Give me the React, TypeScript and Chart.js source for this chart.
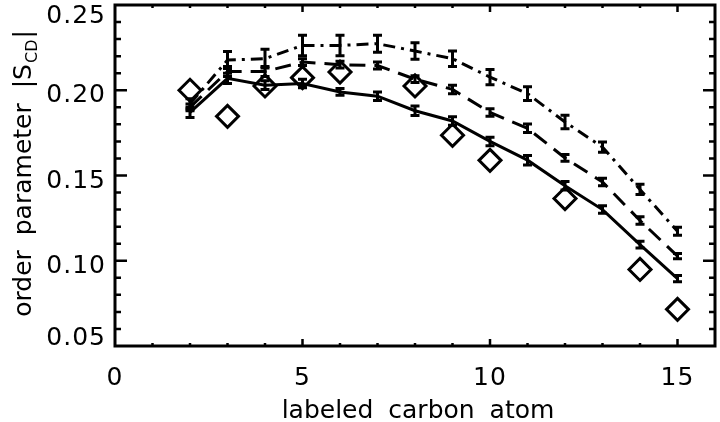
import React, { useEffect, useRef } from "react";
import { Chart, registerables } from "chart.js";

Chart.register(...registerables);

// ---- data ----
const carbons = [2, 3, 4, 5, 6, 7, 8, 9, 10, 11, 12, 13, 14, 15];

const simSolid = [0.187, 0.207, 0.203, 0.204, 0.199, 0.1965, 0.188, 0.182, 0.17, 0.159, 0.144, 0.13, 0.1095, 0.0895];
const simSolidErr = [0.003, 0.003, 0.0025, 0.0025, 0.002, 0.0025, 0.0028, 0.0025, 0.0025, 0.0028, 0.0025, 0.0022, 0.002, 0.0018];

const simDashed = [0.19, 0.211, 0.211, 0.2165, 0.215, 0.2145, 0.2065, 0.2005, 0.187, 0.1777, 0.1603, 0.1462, 0.1236, 0.1027];
const simDashedErr = [0.002, 0.003, 0.003, 0.002, 0.002, 0.002, 0.002, 0.0025, 0.0022, 0.0025, 0.002, 0.0022, 0.0022, 0.0015];

const simDashDot = [0.192, 0.2177, 0.2185, 0.2263, 0.2263, 0.2273, 0.223, 0.2185, 0.2077, 0.198, 0.1814, 0.1667, 0.1418, 0.1173];
const simDashDotErr = [0.003, 0.005, 0.0055, 0.006, 0.006, 0.005, 0.0048, 0.0045, 0.0045, 0.004, 0.004, 0.003, 0.003, 0.0023];

const expCarbons = [2, 3, 4, 5, 6, 8, 9, 10, 12, 14, 15];
const expValues = [0.2, 0.1847, 0.2025, 0.2074, 0.2107, 0.2025, 0.1736, 0.1589, 0.1365, 0.0949, 0.0715];

const xTicks = [0, 5, 10, 15];
const xTickLabels = ["0", "5", "10", "15"];
const yTicks = [0.05, 0.1, 0.15, 0.2, 0.25];
const yTickLabels = ["0.05", "0.10", "0.15", "0.20", "0.25"];
const xTitle = "labeled carbon atom";
const yTitleMain = "order parameter |S";
const yTitleSub = "CD";
const yTitleEnd = "|";

const X_MIN = 0, X_MAX = 16, Y_MIN = 0.05, Y_MAX = 0.25;

const pts = (xs: number[], ys: number[]) => xs.map((x, i) => ({ x, y: ys[i] }));

const FONT = '"DejaVu Sans"';

const framePlugin = {
  id: "frameAxes",
  afterDatasetsDraw(chart: any) {
    const { ctx, scales } = chart;
    const x = scales.x, y = scales.y;
    ctx.save();
    ctx.strokeStyle = "#000";
    ctx.lineWidth = 3;
    ctx.setLineDash([]);
    chart.data.datasets.forEach((ds: any) => {
      if (!ds.errors) return;
      ds.data.forEach((p: any, j: number) => {
        const px = x.getPixelForValue(p.x);
        const t = y.getPixelForValue(p.y + ds.errors[j]);
        const b = y.getPixelForValue(p.y - ds.errors[j]);
        ctx.beginPath();
        ctx.moveTo(px, t); ctx.lineTo(px, b);
        ctx.moveTo(px - 4.5, t); ctx.lineTo(px + 4.5, t);
        ctx.moveTo(px - 4.5, b); ctx.lineTo(px + 4.5, b);
        ctx.stroke();
      });
    });
    ctx.restore();
  },
  afterDraw(chart: any) {
    const { ctx, chartArea: a, scales } = chart;
    const x = scales.x, y = scales.y;
    ctx.save();
    ctx.strokeStyle = "#000";
    ctx.fillStyle = "#000";
    ctx.setLineDash([]);
    // frame
    ctx.lineWidth = 3;
    ctx.strokeRect(a.left, a.top, a.right - a.left, a.bottom - a.top);
    // ticks
    ctx.lineWidth = 2.5;
    ctx.beginPath();
    for (let v = X_MIN + 1; v < X_MAX; v++) {
      const px = x.getPixelForValue(v);
      const len = xTicks.includes(v) ? 7 : 3;
      ctx.moveTo(px, a.bottom); ctx.lineTo(px, a.bottom - len);
      ctx.moveTo(px, a.top); ctx.lineTo(px, a.top + len);
    }
    for (let k = 1; k < 20; k++) {
      const v = Y_MIN + k * 0.01;
      const py = y.getPixelForValue(v);
      const len = k % 5 === 0 ? 12 : 6;
      ctx.moveTo(a.left, py); ctx.lineTo(a.left + len, py);
      ctx.moveTo(a.right, py); ctx.lineTo(a.right - len, py);
    }
    ctx.stroke();

    // tick labels
    ctx.font = `25px ${FONT}`;
    (ctx as any).letterSpacing = "1px";
    ctx.textBaseline = "alphabetic";
    ctx.textAlign = "center";
    xTicks.forEach((v, i) => {
      ctx.fillText(xTickLabels[i], x.getPixelForValue(v), a.bottom + 39);
    });
    ctx.textAlign = "right";
    yTicks.forEach((v, i) => {
      const py = y.getPixelForValue(v);
      const base = Math.min(Math.max(py + 12, a.top + 18), a.bottom - 1);
      ctx.fillText(yTickLabels[i], a.left - 9, base);
    });
    (ctx as any).letterSpacing = "0px";

    // x title
    (ctx as any).wordSpacing = "7px";
    ctx.textAlign = "center";
    ctx.fillText(xTitle, (a.left + a.right) / 2 + 3, 418);

    // y title with subscript
    const mainFont = `25px ${FONT}`;
    const subFont = `16px ${FONT}`;
    ctx.font = mainFont;
    const w1 = ctx.measureText(yTitleMain).width;
    const w3 = ctx.measureText(yTitleEnd).width;
    ctx.font = subFont;
    const w2 = ctx.measureText(yTitleSub).width;
    const total = w1 + w2 + w3 + 2;
    ctx.translate(31, (a.top + a.bottom) / 2 - 2);
    ctx.rotate(-Math.PI / 2);
    ctx.textAlign = "left";
    let cx = -total / 2;
    ctx.font = mainFont;
    ctx.fillText(yTitleMain, cx, 0);
    cx += w1 + 1;
    ctx.font = subFont;
    (ctx as any).wordSpacing = "0px";
    ctx.fillText(yTitleSub, cx, 6);
    cx += w2 + 1;
    ctx.font = mainFont;
    ctx.fillText(yTitleEnd, cx, 0);
    ctx.restore();
  },
};

export default function App() {
  const ref = useRef<HTMLCanvasElement | null>(null);
  useEffect(() => {
    if (!ref.current) return;
    const lineDs = (data: number[], err: number[], dash: number[]) => ({
      type: "line" as const,
      data: pts(carbons, data),
      errors: err,
      borderColor: "#000",
      borderWidth: 3,
      borderDash: dash,
      pointRadius: 0,
      fill: false,
      tension: 0,
    });
    const chart = new Chart(ref.current, {
      type: "line",
      data: {
        datasets: [
          {
            type: "line",
            data: pts(expCarbons, expValues),
            showLine: false,
            pointStyle: "rectRot",
            pointRadius: 11,
            pointBorderWidth: 3,
            pointBorderColor: "#000",
            pointBackgroundColor: "rgba(0,0,0,0)",
            borderColor: "#000",
          } as any,
          lineDs(simSolid, simSolidErr, []),
          lineDs(simDashed, simDashedErr, [16, 9]),
          lineDs(simDashDot, simDashDotErr, [12, 6, 3, 6]),
        ],
      },
      options: {
        animation: false,
        responsive: false,
        layout: { autoPadding: false, padding: { left: 115, top: 5, right: 5, bottom: 76 } },
        plugins: { legend: { display: false }, tooltip: { enabled: false } },
        scales: {
          x: { type: "linear", min: X_MIN, max: X_MAX, display: false },
          y: { type: "linear", min: Y_MIN, max: Y_MAX, display: false },
        },
      },
      plugins: [framePlugin],
    });
    return () => chart.destroy();
  }, []);
  return (
    <div style={{ position: "fixed", left: 0, top: 0, width: 720, height: 422, background: "#fff" }}>
      <canvas ref={ref} width={720} height={422} />
    </div>
  );
}
